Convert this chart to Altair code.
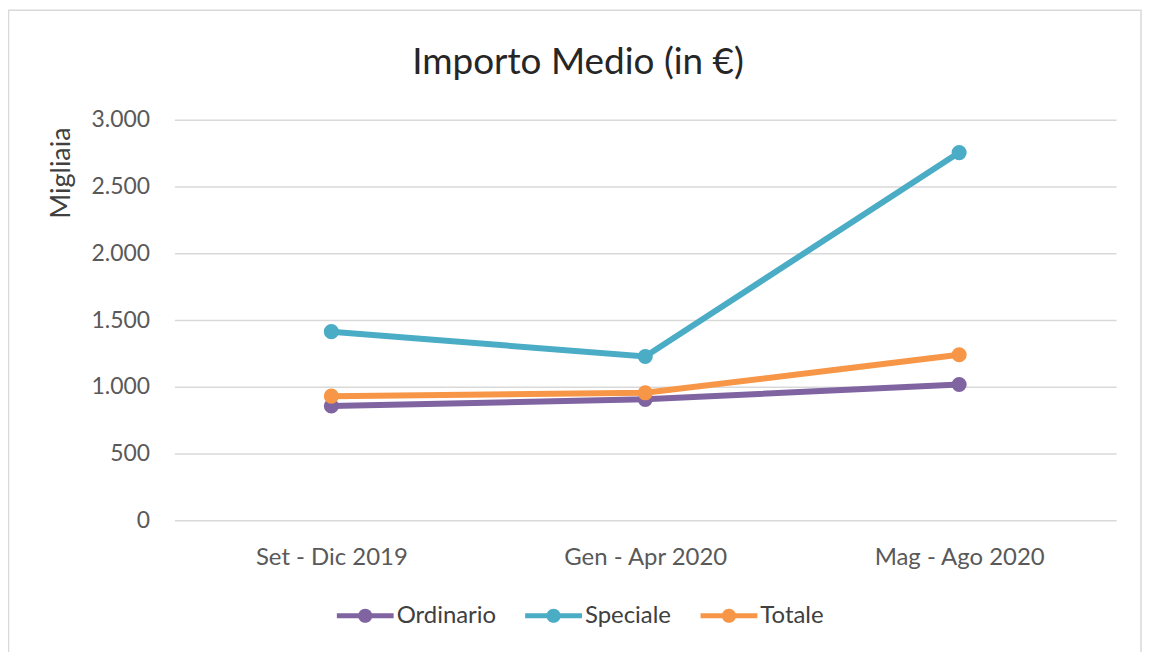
import altair as alt
import pandas as pd

categories = ["Set - Dic 2019", "Gen - Apr 2020", "Mag - Ago 2020"]
series_names = ["Ordinario", "Speciale", "Totale"]
ordinario = [856, 906, 1017]
speciale = [1413, 1227, 2754]
totale = [930, 955, 1240]
colors = ["#8064A2", "#4BACC6", "#F79646"]
y_ticks = [0, 500, 1000, 1500, 2000, 2500, 3000]
chart_title = ["Importo Medio (in €)"]

rows = []
for name, vals in zip(series_names, [ordinario, speciale, totale]):
    for c, v in zip(categories, vals):
        rows.append({"Periodo": c, "Serie": name, "Valore": v})
df = pd.DataFrame(rows)

FONT = "Lato"
W, H = 945, 402

x_enc = alt.X("Periodo:N", sort=categories,
              scale=alt.Scale(type="point", padding=0.5),
              axis=alt.Axis(title=None, labelAngle=0, ticks=False, domain=False,
                            grid=False, labelFontSize=24, labelFont=FONT,
                            labelColor="#595959", labelPadding=25))
y_enc = alt.Y("Valore:Q", scale=alt.Scale(domain=[0, 3000], nice=False),
              axis=alt.Axis(values=y_ticks, title="Migliaia", ticks=False, domain=False,
                            grid=True, gridColor="#D9D9D9", gridWidth=1.5,
                            labelFontSize=23, labelFont=FONT, labelColor="#595959",
                            labelPadding=25,
                            labelExpr="replace(format(datum.value, ','), ',', '.')",
                            titleFont=FONT, titleFontSize=27, titleFontWeight="normal",
                            titleColor="#404040", titleAngle=-90, titleX=-113, titleY=53,
                            titleAlign="center", titleBaseline="middle"))

legend_path = ("M -1 -0.09 L 1 -0.09 L 1 0.09 L -1 0.09 Z "
               "M 0.25 0 A 0.25 0.25 0 1 1 -0.25 0 A 0.25 0.25 0 1 1 0.25 0 Z")

color_scale = alt.Scale(domain=series_names, range=colors)
legend = alt.Legend(title=None, orient="none", legendX=163, legendY=469,
                    direction="horizontal", symbolType=legend_path,
                    symbolSize=3249, symbolStrokeWidth=0,
                    labelFont=FONT, labelFontSize=24, labelColor="#404040",
                    labelOffset=3, columnPadding=29, padding=0)

lines = alt.Chart(df).mark_line(strokeWidth=6, strokeCap="round").encode(
    x=x_enc, y=y_enc,
    color=alt.Color("Serie:N", scale=color_scale, legend=legend),
)
points = alt.Chart(df).mark_point(filled=True, size=230, opacity=1).encode(
    x=x_enc, y=y_enc,
    color=alt.Color("Serie:N", scale=color_scale, legend=legend),
)

border = alt.Chart(pd.DataFrame({"b": [0]})).mark_rect(
    fillOpacity=0, stroke="#D9D9D9", strokeWidth=1.5
).encode(x=alt.value(-166.5), x2=alt.value(970), y=alt.value(-110), y2=alt.value(560))

title = alt.Chart(pd.DataFrame({"t": chart_title})).mark_text(
    font=FONT, fontSize=37, color="#262626", align="center", baseline="middle"
).encode(text="t:N", x=alt.value(405), y=alt.value(-57))

chart = alt.layer(border, title, lines, points).properties(
    width=W, height=H,
    autosize=alt.AutoSizeParams(type="none"),
    padding={"left": 167, "top": 111, "right": 26, "bottom": 131},
).configure_view(strokeWidth=0)

chart.save("out.html", embed_options={"renderer": "svg", "actions": False})
